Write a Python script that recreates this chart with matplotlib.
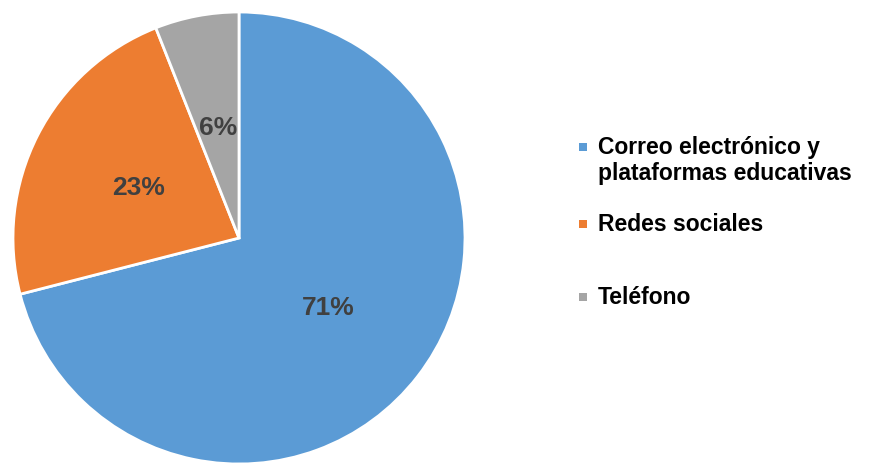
import matplotlib
matplotlib.use("Agg")
import matplotlib.pyplot as plt
from matplotlib.patches import Rectangle

categories = ["Correo electrónico y\nplataformas educativas", "Redes sociales", "Teléfono"]
values = [71, 23, 6]
colors = ["#5B9BD5", "#ED7D31", "#A5A5A5"]

plt.rcParams['font.family'] = ['Liberation Sans', 'DejaVu Sans']

W, H = 896, 464
fig = plt.figure(figsize=(W / 100, H / 100), dpi=100)
ax = fig.add_axes([0, 0, 1, 1])

wedges, texts, autotexts = ax.pie(
    values, colors=colors, startangle=90, counterclock=False,
    center=(239, H - 239), radius=226, frame=True,
    autopct=lambda p: f"{p:.0f}%", pctdistance=0.5,
    wedgeprops=dict(edgecolor='white', linewidth=2),
    textprops=dict(fontsize=19, fontweight='bold', color='#404040'),
)
ax.set_xlim(0, W)
ax.set_ylim(0, H)
ax.set_aspect('equal')
ax.axis('off')

# legend
leg_y = [148 + 12.5, 225, 298]
for lab, col, yc in zip(categories, colors, leg_y):
    first_line_y = yc - 12.5 if "\n" in lab else yc
    ax.add_patch(Rectangle((579, H - first_line_y - 4), 8, 8, facecolor=col,
                           edgecolor='none', clip_on=False))
    ax.text(598, H - yc, lab, fontsize=16.5, fontweight='bold', color='black',
            ha='left', va='center', linespacing=1.12)

fig.savefig("out.png", dpi=100)
